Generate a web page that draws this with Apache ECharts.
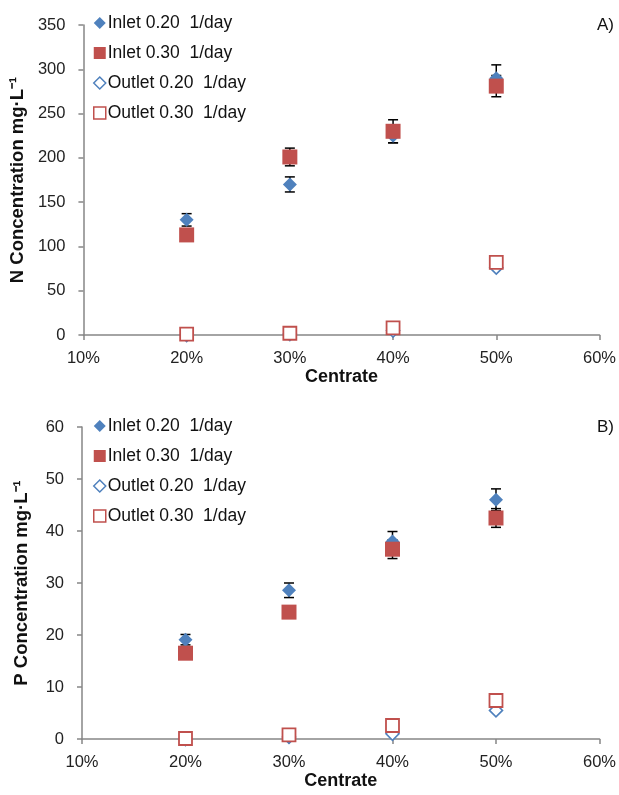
<!DOCTYPE html>
<html><head><meta charset="utf-8">
<script src="https://cdn.jsdelivr.net/npm/echarts@6/dist/echarts.min.js"></script>
<style>html,body{margin:0;padding:0;background:#fff}#c{width:619px;height:795px}</style>
</head><body><div id="c"></div>
<script>
var centrate = [20, 30, 40, 50];
var xTicks = [10, 20, 30, 40, 50, 60];
var seriesNames = ['Inlet 0.20  1/day', 'Inlet 0.30  1/day', 'Outlet 0.20  1/day', 'Outlet 0.30  1/day'];
// Panel A (N)
var nInlet020 = [130, 170, 225, 290];
var nInlet020Err = [7, 8.5, 8, 15];
var nInlet030 = [113, 201, 230, 281];
var nInlet030Err = [4, 10, 13, 12];
var nOutlet020 = [0, 1, 5, 76];
var nOutlet030 = [1, 2, 8, 82];
// Panel B (P)
var pInlet020 = [19.1, 28.6, 38.0, 46.0];
var pInlet020Err = [1.0, 1.4, 1.9, 2.1];
var pInlet030 = [16.5, 24.4, 36.5, 42.5];
var pInlet030Err = [0.8, 0.8, 1.8, 1.8];
var pOutlet020 = [0, 0.4, 1.0, 5.5];
var pOutlet030 = [0.1, 0.8, 2.6, 7.4];

var BLUE = '#4F81BD', RED = '#C0504D';
var FONT = 'Liberation Sans, Arial, sans-serif';

function pts(vals) { return centrate.map(function (x, i) { return [x, vals[i]]; }); }
function errPts(vals, errs) { return centrate.map(function (x, i) { return [x, vals[i], errs[i]]; }); }

function errSeries(idx, vals, errs) {
  return {
    type: 'custom', xAxisIndex: idx, yAxisIndex: idx, z: 1, silent: true,
    data: errPts(vals, errs),
    renderItem: function (params, api) {
      var x = api.value(0), y = api.value(1), e = api.value(2);
      var top = api.coord([x, y + e]), bot = api.coord([x, y - e]);
      var st = { stroke: '#000', lineWidth: 1.5 };
      return { type: 'group', children: [
        { type: 'line', shape: { x1: top[0], y1: top[1], x2: bot[0], y2: bot[1] }, style: st },
        { type: 'line', shape: { x1: top[0] - 5, y1: top[1], x2: top[0] + 5, y2: top[1] }, style: st },
        { type: 'line', shape: { x1: bot[0] - 5, y1: bot[1], x2: bot[0] + 5, y2: bot[1] }, style: st }
      ]};
    }
  };
}

function scatterSet(idx, a, b, c, d) {
  return [
    { name: seriesNames[0], type: 'scatter', xAxisIndex: idx, yAxisIndex: idx, z: 2, symbol: 'diamond', symbolSize: 14,
      itemStyle: { color: BLUE, opacity: 1 }, data: pts(a) },
    { name: seriesNames[1], type: 'scatter', xAxisIndex: idx, yAxisIndex: idx, z: 3, symbol: 'rect', symbolSize: 15,
      itemStyle: { color: RED, opacity: 1 }, data: pts(b) },
    { name: seriesNames[2], type: 'scatter', xAxisIndex: idx, yAxisIndex: idx, z: 4, symbol: 'diamond', symbolSize: 13,
      itemStyle: { color: '#fff', borderColor: BLUE, borderWidth: 1.6, opacity: 1 }, data: pts(c) },
    { name: seriesNames[3], type: 'scatter', xAxisIndex: idx, yAxisIndex: idx, z: 5, symbol: 'rect', symbolSize: 13,
      itemStyle: { color: '#fff', borderColor: RED, borderWidth: 1.8, opacity: 1 }, data: pts(d) }
  ];
}

function legendAt(top) {
  return {
    orient: 'vertical', left: 88, top: top, itemWidth: 12, itemHeight: 12, itemGap: 12,
    selectedMode: false,
    textStyle: { fontFamily: FONT, fontSize: 17.5, color: '#111', lineHeight: 18, padding: [0, 0, 0, -3] },
    data: [
      { name: seriesNames[0], icon: 'diamond', itemStyle: { color: BLUE, opacity: 1 } },
      { name: seriesNames[1], icon: 'rect', itemStyle: { color: RED, opacity: 1 } },
      { name: seriesNames[2], icon: 'diamond', itemStyle: { color: '#fff', borderColor: BLUE, borderWidth: 1.5, opacity: 1 } },
      { name: seriesNames[3], icon: 'rect', itemStyle: { color: '#fff', borderColor: RED, borderWidth: 1.5, opacity: 1 } }
    ]
  };
}

var axisLine = { lineStyle: { color: '#868686', width: 1.5 } };
function xAxis(idx) {
  return {
    type: 'value', gridIndex: idx, min: xTicks[0], max: xTicks[xTicks.length - 1], interval: 10,
    name: 'Centrate', nameLocation: 'middle', nameGap: 32,
    nameTextStyle: { fontFamily: FONT, fontSize: 18, fontWeight: 'bold', color: '#111' },
    axisLine: axisLine, axisTick: { show: true, length: 5, lineStyle: { color: '#868686', width: 1.5 } },
    axisLabel: { fontFamily: FONT, fontSize: 16.5, color: '#222', margin: 15, formatter: '{value}%' },
    splitLine: { show: false }
  };
}
function yAxis(idx, max, interval, name) {
  return {
    type: 'value', gridIndex: idx, min: 0, max: max, interval: interval,
    name: name, nameLocation: 'middle', nameGap: 51,
    nameTextStyle: { fontFamily: FONT, fontSize: 18.5, fontWeight: 'bold', color: '#111' },
    axisLine: axisLine, axisTick: { show: true, length: 5, lineStyle: { color: '#868686', width: 1.5 } },
    axisLabel: { fontFamily: FONT, fontSize: 16.5, color: '#222', margin: 18 },
    splitLine: { show: false }
  };
}

var chart = echarts.init(document.getElementById('c'), null, { renderer: 'canvas' });
chart.setOption({
  backgroundColor: '#fff',
  animation: false,
  grid: [
    { left: 82, right: 19, top: 25, height: 310 },
    { left: 82, right: 19, top: 427, height: 312 }
  ],
  legend: [legendAt(9), legendAt(412)],
  graphic: [
    { type: 'text', right: 5, top: 17, style: { text: 'A)', font: '17px ' + FONT, fill: '#111' } },
    { type: 'text', right: 5, top: 419, style: { text: 'B)', font: '17px ' + FONT, fill: '#111' } }
  ],
  xAxis: [xAxis(0), xAxis(1)],
  yAxis: [yAxis(0, 350, 50, 'N Concentration mg·L⁻¹'), yAxis(1, 60, 10, 'P Concentration mg·L⁻¹')],
  series: [
    errSeries(0, nInlet020, nInlet020Err), errSeries(0, nInlet030, nInlet030Err)
  ].concat(scatterSet(0, nInlet020, nInlet030, nOutlet020, nOutlet030))
   .concat([errSeries(1, pInlet020, pInlet020Err), errSeries(1, pInlet030, pInlet030Err)])
   .concat(scatterSet(1, pInlet020, pInlet030, pOutlet020, pOutlet030))
});
</script></body></html>
